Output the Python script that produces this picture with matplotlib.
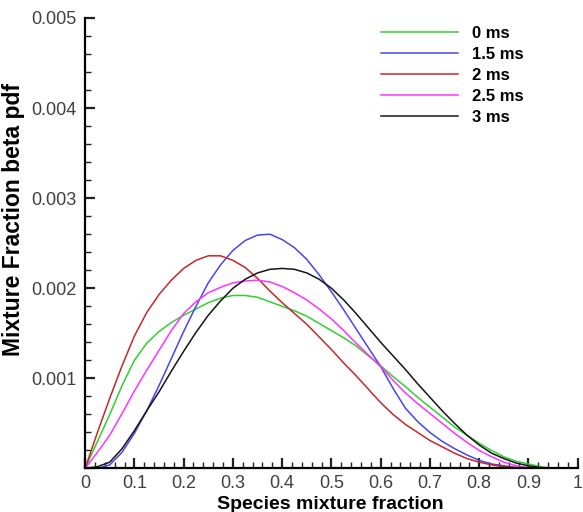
import matplotlib
matplotlib.use("Agg")
import matplotlib.pyplot as plt
from matplotlib.ticker import MultipleLocator, FuncFormatter
import numpy as np

plt.rcParams["font.family"] = ["Liberation Sans", "DejaVu Sans"]

# species mixture fraction (sample points)
mix_frac = [0.0, 0.025, 0.05, 0.075, 0.1, 0.125, 0.15, 0.175, 0.2, 0.225,
            0.25, 0.275, 0.3, 0.325, 0.35, 0.375, 0.4, 0.425, 0.45, 0.475,
            0.5, 0.525, 0.55, 0.575, 0.6, 0.625, 0.65, 0.675, 0.7, 0.725,
            0.75, 0.775, 0.8, 0.825, 0.85, 0.875, 0.9, 0.925, 0.95, 0.975, 1.0]

# beta pdf values (x 1e-3)
pdf_0ms = [0, 0.30, 0.60, 0.92, 1.20, 1.39, 1.52, 1.62, 1.70, 1.77,
           1.84, 1.89, 1.92, 1.92, 1.90, 1.85, 1.80, 1.75, 1.69, 1.61,
           1.53, 1.45, 1.36, 1.25, 1.14, 1.02, 0.91, 0.79, 0.68, 0.57,
           0.46, 0.37, 0.28, 0.20, 0.13, 0.08, 0.05, 0.02, 0.0, 0.0, 0.0]
pdf_15ms = [0, 0.0, 0.04, 0.18, 0.39, 0.64, 0.92, 1.22, 1.52, 1.80,
            2.06, 2.26, 2.42, 2.53, 2.59, 2.60, 2.54, 2.45, 2.32, 2.15,
            1.96, 1.76, 1.55, 1.34, 1.13, 0.89, 0.67, 0.52, 0.40, 0.30,
            0.22, 0.15, 0.09, 0.05, 0.03, 0.01, 0.0, 0.0, 0.0, 0.0, 0.0]
pdf_2ms = [0, 0.40, 0.78, 1.14, 1.47, 1.73, 1.93, 2.09, 2.22, 2.31,
           2.36, 2.36, 2.31, 2.23, 2.11, 1.97, 1.84, 1.72, 1.60, 1.46,
           1.32, 1.17, 1.03, 0.88, 0.73, 0.60, 0.49, 0.40, 0.31, 0.24,
           0.17, 0.11, 0.07, 0.04, 0.02, 0.01, 0.0, 0.0, 0.0, 0.0, 0.0]
pdf_25ms = [0, 0.18, 0.37, 0.61, 0.86, 1.09, 1.31, 1.53, 1.72, 1.85,
            1.95, 2.01, 2.06, 2.08, 2.09, 2.07, 2.02, 1.95, 1.87, 1.77,
            1.66, 1.53, 1.39, 1.26, 1.13, 0.98, 0.84, 0.72, 0.61, 0.50,
            0.39, 0.29, 0.20, 0.13, 0.07, 0.03, 0.01, 0.0, 0.0, 0.0, 0.0]
pdf_3ms = [0, 0.02, 0.07, 0.22, 0.42, 0.64, 0.85, 1.08, 1.30, 1.51,
           1.70, 1.86, 2.00, 2.10, 2.17, 2.21, 2.22, 2.21, 2.17, 2.10,
           2.00, 1.87, 1.72, 1.56, 1.40, 1.25, 1.10, 0.94, 0.79, 0.64,
           0.50, 0.37, 0.26, 0.17, 0.11, 0.06, 0.03, 0.01, 0.0, 0.0, 0.0]

labels = ["0 ms", "1.5 ms", "2 ms", "2.5 ms", "3 ms"]
colors = ["#2fd02f", "#4646ee", "#c42828", "#ff33ff", "#151515"]
series = [pdf_0ms, pdf_15ms, pdf_2ms, pdf_25ms, pdf_3ms]

fig = plt.figure(figsize=(5.83, 5.12), dpi=100)
ax = fig.add_axes([0.146, 0.085, 0.845, 0.88])

x = np.array(mix_frac)
for vals, col, lab in zip(series, colors, labels):
    ax.plot(x, np.array(vals) * 1e-3, color=col, linewidth=1.1, label=lab)

ax.set_xlim(0, 1)
ax.set_ylim(0, 0.005)
ax.spines["top"].set_visible(False)
ax.spines["right"].set_visible(False)
ax.spines["left"].set_linewidth(1.6)
ax.spines["bottom"].set_linewidth(1.6)

ax.xaxis.set_major_locator(MultipleLocator(0.1))
ax.xaxis.set_minor_locator(MultipleLocator(0.02))
ax.yaxis.set_major_locator(MultipleLocator(0.001))
ax.yaxis.set_minor_locator(MultipleLocator(0.0002))
ax.xaxis.set_major_formatter(FuncFormatter(lambda v, p: "%g" % round(v, 2)))
ax.yaxis.set_major_formatter(FuncFormatter(lambda v, p: "" if abs(v) < 1e-9 else "%.3f" % v))

ax.tick_params(which="both", direction="in", colors="#202020", labelcolor="#404040",
               labelsize=13)
ax.tick_params(which="major", length=7, width=1.6, pad=6)
ax.tick_params(axis="x", which="major", pad=4.5)
ax.tick_params(which="minor", length=4, width=1.0)

ax.set_xlabel("Species mixture fraction", fontsize=14, fontweight="bold")
ax.set_ylabel("Mixture Fraction beta pdf", fontsize=16.5, fontweight="bold")
ax.xaxis.set_label_coords(0.497, -0.06)
ax.yaxis.set_label_coords(-0.122, 0.553)

ax.legend(loc="upper left", bbox_to_anchor=(0.57, 1.016), frameon=False,
          handlelength=4.6, handletextpad=0.85, labelspacing=0.36,
          prop={"size": 12, "weight": "bold"})

fig.savefig("out.png", dpi=100)
plt.close(fig)
